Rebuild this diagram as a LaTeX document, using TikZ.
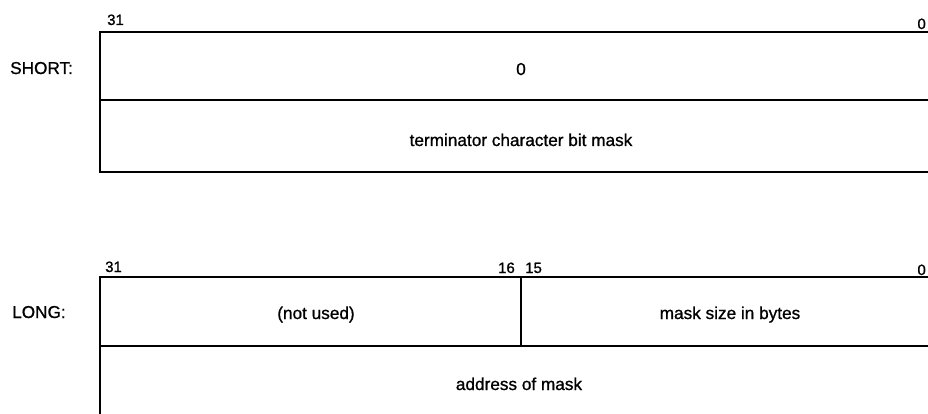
\documentclass[tikz,border=0pt]{standalone}
\usepackage{fontspec}
\setmainfont{Liberation Sans}
\newfontfamily\medfont[FakeBold=0.9]{Liberation Sans}
\begin{document}
\begin{tikzpicture}[x=1pt,y=-1pt,
  rule/.style={line width=1.7pt, line cap=rect},
  lbl/.style={inner sep=0pt, anchor=base, font=\medfont\fontsize{17.2}{20}\selectfont},
  bitno/.style={inner sep=0pt, font=\medfont\fontsize{15}{18}\selectfont}]
\useasboundingbox (0,0) rectangle (928,414);
% SHORT format
\coordinate (s1) at (100,32);
\coordinate (s2) at (100,100);
\coordinate (s3) at (100,172);
\draw[rule] (928,32) -- (s1) -- (s3) -- (928,172);
\draw[rule] (s2) -- (928,100);
\node[bitno, anchor=base west] (s31) at (107,25) {31};
\node[bitno, anchor=base east] (s0) at (926,29) {0};
\node[lbl, anchor=base west] (short) at (10,74) {SHORT:};
\node[lbl] (szero) at (521,75) {0};
\node[lbl] (term) at (521,146) {terminator character bit mask};
% LONG format
\coordinate (l1) at (100,277);
\coordinate (l2) at (100,346);
\coordinate (l3) at (100,414);
\coordinate (d1) at (521,277);
\coordinate (d2) at (521,346);
\draw[rule] (928,277) -- (l1) -- (l3);
\draw[rule] (l2) -- (928,346);
\draw[rule] (d1) -- (d2);
\node[bitno, anchor=base west] (l31) at (105,272) {31};
\node[bitno, anchor=base east] (l16) at (515,273) {16};
\node[bitno, anchor=base west] (l15) at (525,273) {15};
\node[bitno, anchor=base east] (l0) at (926,275) {0};
\node[lbl, anchor=base west] (long) at (12,318) {LONG:};
\node[lbl] (notused) at (316,319) {(not used)};
\node[lbl] (msize) at (730,319) {mask size in bytes};
\node[lbl] (addr) at (519,390) {address of mask};
\end{tikzpicture}
\end{document}
